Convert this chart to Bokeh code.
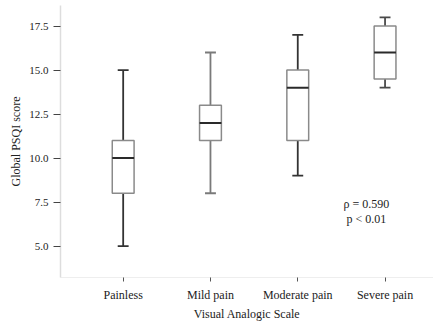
import numpy as np
from bokeh.plotting import figure
from bokeh.models import FixedTicker, Range1d, Label, ColumnDataSource, CustomJSTickFormatter
from bokeh.embed import file_html
from bokeh.resources import INLINE

categories = ["Painless", "Mild pain", "Moderate pain", "Severe pain"]
whisker_low = [5.0, 8.0, 9.0, 14.0]
q1 = [8.0, 11.0, 11.0, 14.5]
median = [10.0, 12.0, 14.0, 16.0]
q3 = [11.0, 13.0, 15.0, 17.5]
whisker_high = [15.0, 16.0, 17.0, 18.0]
whisker_colors = ["#333333", "#7a7a7a", "#333333", "#4a4a4a"]
y_ticks = [5.0, 7.5, 10.0, 12.5, 15.0, 17.5]
annotation = ["ρ = 0.590", "p < 0.01"]

FONT = "Liberation Serif"
x = np.arange(len(categories), dtype=float)
box_w = 0.25
cap_w = 0.125

src = ColumnDataSource(dict(
    x=x, lo=whisker_low, q1=q1, med=median, q3=q3, hi=whisker_high,
    wc=whisker_colors,
    cap_l=x - cap_w / 2, cap_r=x + cap_w / 2,
    box_l=x - box_w / 2, box_r=x + box_w / 2,
))

p = figure(width=433, height=323, output_backend="svg", toolbar_location=None,
           x_range=Range1d(-0.718, 3.555), y_range=Range1d(3.214, 18.67),
           min_border_left=60, min_border_right=0, min_border_top=5, min_border_bottom=41)
p.outline_line_color = None
p.xgrid.grid_line_color = None
p.ygrid.grid_line_color = None
p.background_fill_color = "white"
p.border_fill_color = "white"

# whiskers
p.segment(x0="x", y0="q3", x1="x", y1="hi", source=src, line_color="wc", line_width=1.8)
p.segment(x0="x", y0="lo", x1="x", y1="q1", source=src, line_color="wc", line_width=1.8)
p.segment(x0="cap_l", y0="hi", x1="cap_r", y1="hi", source=src, line_color="wc", line_width=1.8)
p.segment(x0="cap_l", y0="lo", x1="cap_r", y1="lo", source=src, line_color="wc", line_width=1.8)
# boxes
p.quad(left="box_l", right="box_r", bottom="q1", top="q3", source=src,
       fill_color="white", line_color="#8a8a8a", line_width=1.5)
# medians
p.segment(x0="box_l", y0="med", x1="box_r", y1="med", source=src, line_color="#2a2a2a", line_width=2)

# axes
p.xaxis.ticker = FixedTicker(ticks=list(x))
p.xaxis.major_label_overrides = {i: c for i, c in enumerate(categories)}
p.yaxis.ticker = FixedTicker(ticks=y_ticks)
p.yaxis.formatter = CustomJSTickFormatter(code="return tick.toFixed(1);")

p.xaxis.axis_label = "Visual Analogic Scale"
p.yaxis.axis_label = "Global PSQI score"
for ax in (p.xaxis[0], p.yaxis[0]):
    ax.axis_label_text_font = FONT
    ax.axis_label_text_font_style = "normal"
    ax.axis_label_text_font_size = "12px"
    ax.axis_label_text_color = "#222222"
    ax.major_label_text_font = FONT
    ax.major_label_text_color = "#222222"
    ax.minor_tick_line_color = None
    ax.major_tick_in = 0
p.xaxis.major_label_text_font_size = "12px"
p.yaxis.major_label_text_font_size = "11px"
p.xaxis.axis_line_color = "#eeeeee"
p.xaxis.major_tick_line_color = "#555555"
p.xaxis.major_tick_out = 4
p.xaxis.major_label_standoff = 6
p.xaxis.axis_label_standoff = 2
p.yaxis.axis_line_color = "#dddddd"
p.yaxis.axis_line_width = 1.5
p.yaxis.major_tick_line_color = "#444444"
p.yaxis.major_tick_out = 7
p.yaxis.major_label_standoff = 5
p.yaxis.axis_label_standoff = 3

p.add_layout(Label(x=2.787, y=7.4, text=annotation[0], text_align="center", text_baseline="middle",
                   text_font=FONT, text_font_size="12px", text_color="#222222"))
p.add_layout(Label(x=2.787, y=6.56, text=annotation[1], text_align="center", text_baseline="middle",
                   text_font=FONT, text_font_size="12px", text_color="#222222"))

open("out.html", "w").write(file_html(p, INLINE))
